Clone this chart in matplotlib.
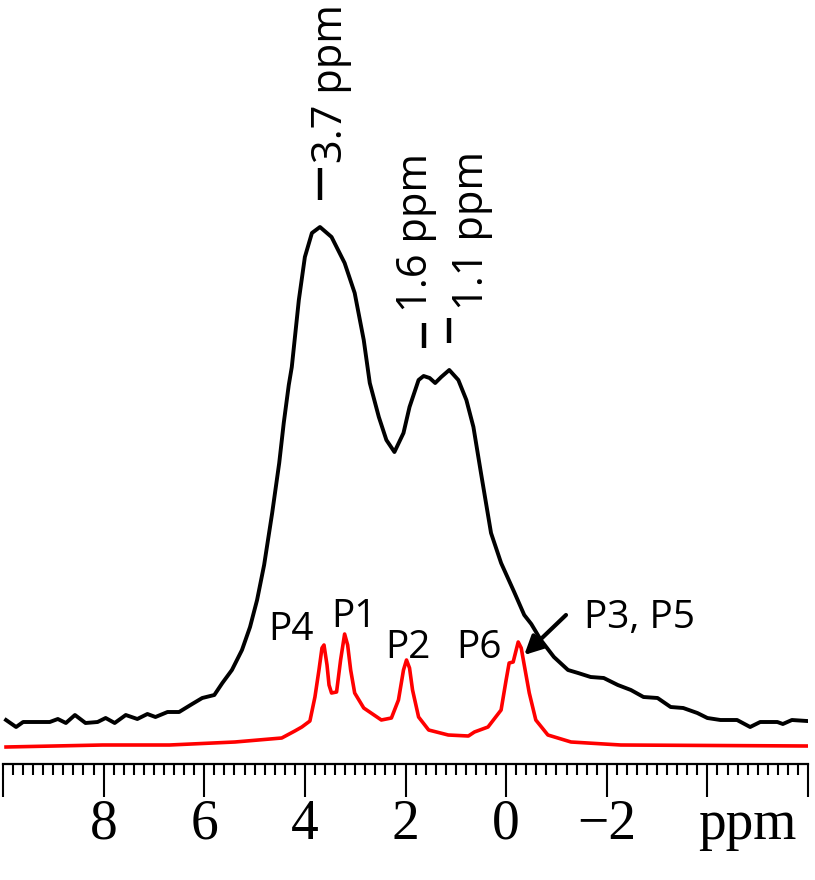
import numpy as np
import matplotlib
matplotlib.use("Agg")
import matplotlib.pyplot as plt
from matplotlib.ticker import MultipleLocator

# spectra (ppm, intensity in a.u.)
black_ppm = [9.94, 9.74, 9.60, 9.35, 9.07, 8.91, 8.75, 8.57, 8.36, 8.12, 7.96, 7.78,
             7.56, 7.33, 7.13, 6.97, 6.73, 6.50, 6.24, 6.04, 5.80, 5.64, 5.45, 5.25,
             5.09, 4.95, 4.81, 4.65, 4.51, 4.42, 4.32, 4.26, 4.12, 4.00, 3.86, 3.70,
             3.47, 3.21, 3.01, 2.83, 2.71, 2.53, 2.38, 2.22, 2.04, 1.92, 1.74, 1.64,
             1.52, 1.41, 1.29, 1.13, 0.95, 0.79, 0.65, 0.50, 0.30, 0.10, -0.16, -0.36,
             -0.50, -0.69, -0.95, -1.23, -1.43, -1.68, -1.94, -2.22, -2.48, -2.73,
             -3.01, -3.27, -3.52, -3.80, -4.00, -4.26, -4.59, -4.85, -5.05, -5.39,
             -5.50, -5.68, -5.98]
black_int = [44, 37, 42, 42, 42, 45, 41, 49, 41, 42, 46, 41,
             49, 45, 50, 47, 52, 52, 60, 66, 69, 81, 94, 114,
             137, 164, 199, 251, 301, 341, 379, 397, 464, 507, 531, 537,
             527, 501, 471, 424, 381, 347, 324, 312, 331, 357, 384, 388,
             386, 381, 387, 394, 384, 364, 337, 291, 231, 201, 172, 149,
             140, 124, 107, 94, 91, 87, 86, 79, 74, 67,
             66, 57, 56, 51, 46, 44, 44, 37, 42, 42,
             40, 44, 43]

red_ppm = [9.94, 8.02, 6.69, 5.39, 4.46, 4.20, 4.06, 3.90, 3.80, 3.72, 3.66, 3.62,
           3.56, 3.52, 3.47, 3.37, 3.29, 3.21, 3.15, 3.09, 3.01, 2.83, 2.48, 2.28,
           2.14, 2.04, 1.98, 1.92, 1.86, 1.74, 1.54, 1.15, 0.75, 0.63, 0.36, 0.10,
           0.00, -0.06, -0.14, -0.24, -0.30, -0.36, -0.46, -0.59, -0.83, -1.29,
           -2.28, -5.98]
red_int = [17, 19, 19, 22, 26, 33, 37, 43, 67, 94, 116, 119,
           99, 79, 71, 72, 104, 130, 119, 94, 71, 56, 44, 46,
           64, 94, 104, 96, 74, 47, 34, 29, 28, 32, 37, 54,
           84, 101, 102, 122, 116, 99, 71, 44, 29, 22,
           19, 18]

# peak labels on the red trace
peak_names = ["P4", "P1", "P2", "P6"]
peak_label_ppm = [4.28, 3.03, 1.96, 0.53]
peak_label_int = [124, 137, 106, 106]

# maxima marked on the black trace
max_ppm = [3.70, 1.64, 1.13]
max_text = ["3.7 ppm", "1.6 ppm", "1.1 ppm"]

xticks = [8, 6, 4, 2, 0, -2]

fig = plt.figure(figsize=(8.15, 8.8), dpi=100)
ax = fig.add_axes([3 / 815, 116 / 880, 805 / 815, 764 / 880])

ax.plot(black_ppm, black_int, color="black", lw=2.8, solid_joinstyle="round")
ax.plot(red_ppm, red_int, color="red", lw=2.6, solid_joinstyle="round")

ax.set_xlim(10, -6)
ax.set_ylim(0, 764)

for s in ["top", "left", "right"]:
    ax.spines[s].set_visible(False)
ax.spines["bottom"].set_linewidth(1.6)
ax.set_yticks([])
ax.set_xticks(xticks + [10, -4, -6])
ax.set_xticklabels([str(t).replace("-", "\u2212") for t in xticks] + ["", "", ""],
                   family="Liberation Serif", fontsize=40)
ax.xaxis.set_minor_locator(MultipleLocator(0.2))
ax.tick_params(axis="x", which="major", length=24, width=1.5, direction="out", pad=1)
ax.tick_params(axis="x", which="minor", length=8, width=1.5, direction="out")

ax.text(-4.79, -0.046, "ppm", transform=ax.get_xaxis_transform(),
        family="Liberation Serif", fontsize=40, ha="center", va="top")

font = "Open Sans"
for name, x, y in zip(peak_names, peak_label_ppm, peak_label_int):
    ax.text(x, y, name, family=font, fontsize=28, ha="center", va="baseline")

ax.text(-1.54, 136, "P3, P5", family=font, fontsize=28, ha="left", va="baseline")
ax.annotate("", xy=(-0.36, 109), xytext=(-1.19, 149),
            arrowprops=dict(arrowstyle="-|>", lw=3, color="black",
                            mutation_scale=28, shrinkA=0, shrinkB=0))

# dash markers and rotated labels above the black maxima
dash_lo = [564, 416, 421]
dash_hi = [596, 441, 446]
text_x = [3.27, 1.58, 0.46]
text_y = [601, 452, 454]
for p, lo, hi, tx, ty, t in zip(max_ppm, dash_lo, dash_hi, text_x, text_y, max_text):
    ax.plot([p, p], [lo, hi], color="black", lw=3.2, solid_capstyle="butt")
    ax.text(tx, ty, t, family=font, fontsize=30, rotation=90,
            rotation_mode="anchor", ha="left", va="baseline")

fig.savefig("out.png", dpi=100)
